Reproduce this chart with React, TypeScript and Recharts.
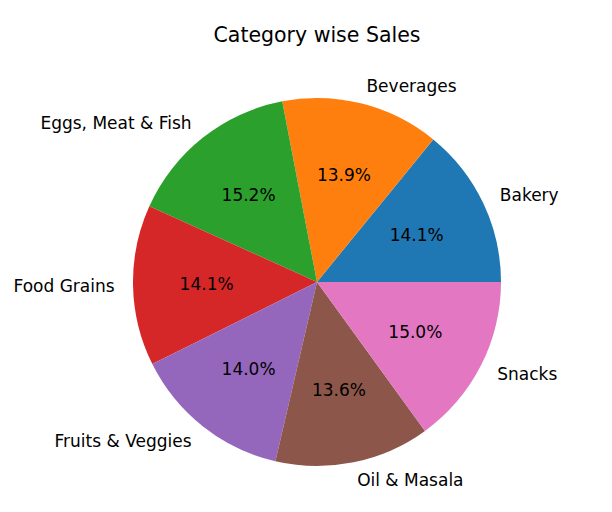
import { PieChart, Pie, Cell } from 'recharts';

const categories = ['Bakery', 'Beverages', 'Eggs, Meat & Fish', 'Food Grains', 'Fruits & Veggies', 'Oil & Masala', 'Snacks'];
const sales = [14.1, 13.9, 15.2, 14.1, 14.0, 13.6, 15.0];
const colors = ['#1f77b4', '#ff7f0e', '#2ca02c', '#d62728', '#9467bd', '#8c564b', '#e377c2'];

const RADIAN = Math.PI / 180;
const FONT = '"DejaVu Sans", sans-serif';

const renderLabel = (props: any) => {
  const { cx, cy, midAngle, outerRadius, percent, name } = props;
  const cos = Math.cos(-midAngle * RADIAN);
  const sin = Math.sin(-midAngle * RADIAN);
  const lx = cx + outerRadius * 1.1 * cos;
  const ly = cy + outerRadius * 1.1 * sin;
  const px = cx + outerRadius * 0.6 * cos;
  const py = cy + outerRadius * 0.6 * sin;
  return (
    <g>
      <text x={lx} y={ly} textAnchor={cos >= 0 ? 'start' : 'end'} dominantBaseline="central"
        fill="#000" fontSize={17} fontFamily={FONT}>
        {name}
      </text>
      <text x={px} y={py} textAnchor="middle" dominantBaseline="central"
        fill="#000" fontSize={17} fontFamily={FONT}>
        {(percent * 100).toFixed(1)}%
      </text>
    </g>
  );
};

export default function App() {
  const data = categories.map((c, i) => ({ name: c, value: sales[i] }));

  return (
    <div style={{ position: 'absolute', left: 0, top: 0, width: 612, height: 512, background: '#fff' }}>
      <PieChart width={612} height={512} margin={{ top: 0, right: 0, bottom: 0, left: 0 }}>
        <text x={317} y={35} textAnchor="middle" dominantBaseline="central"
          fill="#000" fontSize={20.5} fontFamily={FONT}>
          Category wise Sales
        </text>
        <Pie
          data={data}
          dataKey="value"
          nameKey="name"
          cx={317}
          cy={282}
          outerRadius={184}
          startAngle={0}
          endAngle={360}
          stroke="none"
          label={renderLabel}
          labelLine={false}
          isAnimationActive={false}
        >
          {data.map((d, i) => (
            <Cell key={d.name} fill={colors[i]} />
          ))}
        </Pie>
      </PieChart>
    </div>
  );
}
